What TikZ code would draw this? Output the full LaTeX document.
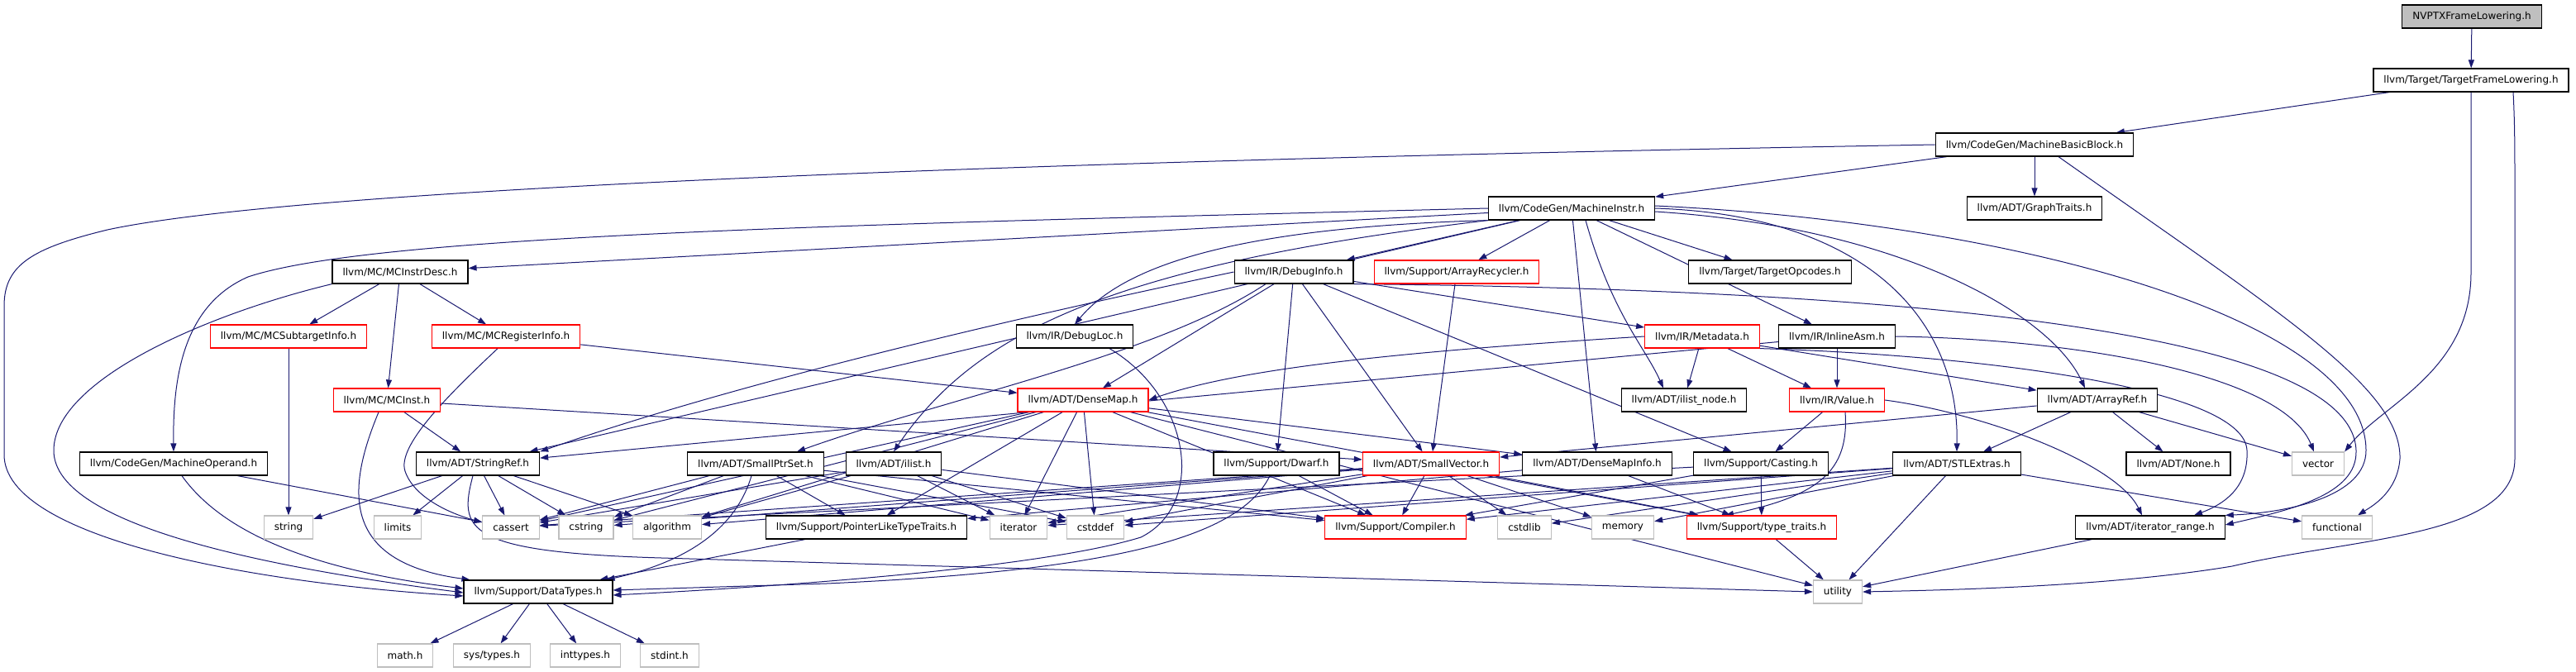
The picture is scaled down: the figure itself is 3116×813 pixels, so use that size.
\documentclass[tikz,border=0pt]{standalone}
\usepackage{fontspec}
\setmainfont{DejaVu Sans}
\usetikzlibrary{arrows.meta, backgrounds}
\definecolor{edgeblue}{HTML}{191970}
\definecolor{sysgray}{HTML}{BFBFBF}

\begin{document}
\begin{tikzpicture}[x=1pt, y=-1pt, >={Triangle[length=10pt,width=7pt]},
    hdr/.style={draw=black, line width=1.2pt, fill=white, minimum height=28pt,
                inner xsep=12.5pt, inner ysep=0pt, font=\fontsize{12}{14}\selectfont},
    trunc/.style={hdr, draw=red},
    sys/.style={hdr, draw=sysgray},
    root/.style={hdr, fill=sysgray},
    dep/.style={->, draw=edgeblue, line width=1pt}]
    \useasboundingbox (0,0) rectangle (3116,813);

    \node[root] (nvptx) at (2990,20) {NVPTXFrameLowering.h};
    \node[hdr] (tfl) at (2989,97) {llvm/Target/TargetFrameLowering.h};
    \node[hdr] (mbb) at (2461,175) {llvm/CodeGen/MachineBasicBlock.h};
    \node[hdr] (graphtraits) at (2461,252) {llvm/ADT/GraphTraits.h};
    \node[hdr] (minstr) at (1901,252) {llvm/CodeGen/MachineInstr.h};
    \node[hdr] (mcinstrdesc) at (484,329) {llvm/MC/MCInstrDesc.h};
    \node[hdr] (debuginfo) at (1565,329) {llvm/IR/DebugInfo.h};
    \node[trunc] (arrayrecycler) at (1762,329) {llvm/Support/ArrayRecycler.h};
    \node[hdr] (targetopcodes) at (2141,329) {llvm/Target/TargetOpcodes.h};
    \node[trunc] (mcsubtarget) at (349,407) {llvm/MC/MCSubtargetInfo.h};
    \node[trunc] (mcreginfo) at (612,407) {llvm/MC/MCRegisterInfo.h};
    \node[hdr] (debugloc) at (1300,407) {llvm/IR/DebugLoc.h};
    \node[trunc] (metadata) at (2059,407) {llvm/IR/Metadata.h};
    \node[hdr] (inlineasm) at (2222,407) {llvm/IR/InlineAsm.h};
    \node[trunc] (mcinst) at (468,484) {llvm/MC/MCInst.h};
    \node[trunc] (densemap) at (1310,484) {llvm/ADT/DenseMap.h};
    \node[hdr] (ilistnode) at (2037,484) {llvm/ADT/ilist\_node.h};
    \node[trunc] (value) at (2222,484) {llvm/IR/Value.h};
    \node[hdr] (arrayref) at (2537,484) {llvm/ADT/ArrayRef.h};
    \node[hdr] (machineoperand) at (210,561) {llvm/CodeGen/MachineOperand.h};
    \node[hdr] (stringref) at (578,561) {llvm/ADT/StringRef.h};
    \node[hdr] (smallptrset) at (914,561) {llvm/ADT/SmallPtrSet.h};
    \node[hdr] (ilist) at (1081,561) {llvm/ADT/ilist.h};
    \node[hdr] (dwarf) at (1544,561) {llvm/Support/Dwarf.h};
    \node[trunc] (smallvector) at (1731,561) {llvm/ADT/SmallVector.h};
    \node[hdr] (densemapinfo) at (1932,561) {llvm/ADT/DenseMapInfo.h};
    \node[hdr] (casting) at (2130,561) {llvm/Support/Casting.h};
    \node[hdr] (stlextras) at (2367,561) {llvm/ADT/STLExtras.h};
    \node[hdr] (none) at (2635,561) {llvm/ADT/None.h};
    \node[sys] (vector) at (2804,561) {vector};
    \node[sys] (string) at (349,638) {string};
    \node[sys] (limits) at (481,638) {limits};
    \node[sys] (cassert) at (618,638) {cassert};
    \node[sys] (cstring) at (709,638) {cstring};
    \node[sys] (algorithm) at (807,638) {algorithm};
    \node[hdr] (pltt) at (1048,638) {llvm/Support/PointerLikeTypeTraits.h};
    \node[sys] (iterator) at (1232,638) {iterator};
    \node[sys] (cstddef) at (1325,638) {cstddef};
    \node[trunc] (compiler) at (1688,638) {llvm/Support/Compiler.h};
    \node[sys] (cstdlib) at (1844,638) {cstdlib};
    \node[sys] (memory) at (1963,638) {memory};
    \node[trunc] (typetraits) at (2131,638) {llvm/Support/type\_traits.h};
    \node[hdr] (iterrange) at (2601,638) {llvm/ADT/iterator\_range.h};
    \node[sys] (functional) at (2827,638) {functional};
    \node[hdr] (datatypes) at (651,716) {llvm/Support/DataTypes.h};
    \node[sys] (utility) at (2223,716) {utility};
    \node[sys] (mathh) at (490,793) {math.h};
    \node[sys] (systypes) at (595,793) {sys/types.h};
    \node[sys] (inttypes) at (708,793) {inttypes.h};
    \node[sys] (stdint) at (810,793) {stdint.h};

    \begin{scope}[on background layer]
    \draw[dep] (nvptx) -- (tfl);
    \draw[dep] (tfl) -- (mbb);
    \draw[dep] (tfl.south) -- (2989,330) .. controls (2989,450) and (2880,490) .. (vector.north east);
    \draw[dep] ([xshift=51pt]tfl.south) .. controls (3042,150) and (3042,180) .. (3042,240) -- (3042,555)
        .. controls (3042,650) and (2850,650) .. (2700,685) .. controls (2550,710) and (2350,714) .. (utility.east);
    \draw[dep] (mbb) -- (graphtraits);
    \draw[dep] (mbb) -- (minstr);
    \draw[dep] (mbb.west) .. controls (1500,190) and (400,220) .. (130,278) .. controls (40,300) and (5,320) .. (5,370)
        -- (5,550) .. controls (5,650) and (300,705) .. ([yshift=-5pt]datatypes.west);
    \draw[dep] ([xshift=29pt]mbb.south) .. controls (2760,380) and (2905,470) .. (2903,555)
        .. controls (2900,595) and (2870,612) .. ([xshift=25pt]functional.north);

    \foreach \t in {mcinstrdesc,stringref,debuginfo,arrayrecycler,targetopcodes,inlineasm,densemapinfo}
        \draw[dep] (minstr) -- (\t);
    \draw[dep] (minstr.west) .. controls (1000,272) and (450,285) .. (300,335)
        .. controls (220,370) and (209,460) .. (machineoperand.north);
    \draw[dep] (minstr.south west) .. controls (1500,275) and (1360,320) .. (debugloc.north);
    \draw[dep] (minstr.south west) .. controls (1350,320) and (1180,400) .. (ilist.north);
    \draw[dep] ([xshift=17pt]minstr.south) .. controls (1950,380) and (1990,420) .. ([xshift=-25pt]ilistnode.north);
    \draw[dep] (minstr.east) .. controls (2250,260) and (2370,380) .. (stlextras.north);
    \draw[dep] ([yshift=-4pt]minstr.east) .. controls (2300,275) and (2480,380) .. ([xshift=-15pt]arrayref.north);
    \draw[dep] ([yshift=3pt]minstr.east) .. controls (2450,270) and (2862,390) .. (2862,545)
        .. controls (2862,600) and (2770,620) .. (iterrange.north east);

    \foreach \t in {mcsubtarget,mcinst,mcreginfo}
        \draw[dep] (mcinstrdesc) -- (\t);
    \draw[dep] (mcinstrdesc.south west) .. controls (250,380) and (65,460) .. (65,545)
        .. controls (65,640) and (350,690) .. ([yshift=-1pt]datatypes.west);
    \draw[dep] (mcsubtarget) -- (string);
    \draw[dep] (mcreginfo) -- (densemap);
    \draw[dep] ([xshift=-10pt]mcreginfo.south) .. controls (540,480) and (480,540) .. (490,570)
        .. controls (500,600) and (540,620) .. ([yshift=6pt]cassert.west);
    \draw[dep] (mcinst) -- (stringref);
    \draw[dep] (mcinst) -- (smallvector);
    \draw[dep] ([xshift=-10pt]mcinst.south) .. controls (420,590) and (410,680) .. ([xshift=8pt]datatypes.north west);
    \draw[dep] (machineoperand) -- (cassert);
    \draw[dep] ([xshift=10pt]machineoperand.south) .. controls (280,660) and (420,695) .. ([yshift=4pt]datatypes.west);

    \foreach \t in {string,limits,cassert,cstring,algorithm}
        \draw[dep] (stringref) -- (\t);
    \draw[dep] ([xshift=-6pt]stringref.south) .. controls (555,640) and (560,668) .. (800,675) -- (utility.west);
    \foreach \t in {mathh,systypes,inttypes,stdint}
        \draw[dep] (datatypes) -- (\t);

    \foreach \t in {densemap,smallvector,dwarf,casting,metadata}
        \draw[dep] (debuginfo) -- (\t);
    \draw[dep] (debuginfo.west) .. controls (1250,380) and (900,460) .. (stringref.north east);
    \draw[dep] ([xshift=-34pt]debuginfo.south) .. controls (1400,430) and (1150,480) .. ([xshift=50pt]smallptrset.north);
    \draw[dep] (debuginfo.south east) .. controls (2300,350) and (2845,400) .. (2850,545)
        .. controls (2852,600) and (2765,618) .. ([yshift=3pt]iterrange.east);
    \draw[dep] ([xshift=42pt]debugloc.south) .. controls (1440,480) and (1460,610) .. (1380,650)
        .. controls (1250,690) and (900,712) .. ([yshift=-4pt]datatypes.east);
    \draw[dep] (arrayrecycler) -- (smallvector);

    \foreach \t in {ilistnode,value,arrayref}
        \draw[dep] (metadata) -- (\t);
    \draw[dep] (metadata.west) .. controls (1700,425) and (1500,445) .. (densemap.east);
    \draw[dep] (metadata.south east) .. controls (2400,430) and (2715,470) .. (2718,545)
        .. controls (2720,590) and (2690,610) .. ([xshift=53pt]iterrange.north);
    \draw[dep] (inlineasm) -- (value);
    \draw[dep] (inlineasm) -- (stringref);
    \draw[dep] (inlineasm.east) .. controls (2500,410) and (2760,450) .. ([xshift=-5pt]vector.north);
    \draw[dep] (value) -- (casting);
    \draw[dep] (value.east) .. controls (2400,500) and (2560,560) .. ([xshift=-10pt]iterrange.north);
    \draw[dep] ([xshift=10pt]value.south) .. controls (2237,570) and (2200,600) .. ([xshift=-44pt]typetraits.north);

    \foreach \t in {none,vector,stlextras,smallvector}
        \draw[dep] (arrayref) -- (\t);
    \foreach \t in {pltt,typetraits}
        \draw[dep] (densemapinfo) -- (\t);
    \foreach \t in {typetraits,cassert,compiler}
        \draw[dep] (casting) -- (\t);
    \foreach \t in {compiler,cstdlib,memory,typetraits,algorithm,cassert,cstddef,cstring,iterator}
        \draw[dep] (smallvector) -- (\t);
    \foreach \t in {pltt,iterator,cstddef,cassert,cstring,compiler}
        \draw[dep] (smallptrset) -- (\t);
    \draw[dep] ([xshift=-5pt]smallptrset.south) .. controls (890,640) and (830,680) .. ([xshift=-8pt]datatypes.north east);
    \foreach \t in {algorithm,cassert,cstddef,iterator,compiler}
        \draw[dep] (ilist) -- (\t);
    \draw[dep] (dwarf) -- (compiler);
    \draw[dep] ([xshift=-8pt]dwarf.south) .. controls (1500,650) and (1350,690) .. (1000,706) -- ([yshift=2pt]datatypes.east);
    \draw[dep] (pltt) -- (datatypes);
    \foreach \t in {compiler,cstddef,cstdlib,iterator,memory,functional,utility}
        \draw[dep] (stlextras) -- (\t);
    \foreach \t in {densemapinfo,typetraits,pltt,iterator,cstddef,compiler,utility,algorithm,cassert,cstring}
        \draw[dep] (densemap) -- (\t);
    \draw[dep] (typetraits) -- (utility);
    \draw[dep] (iterrange) -- (utility);
    \end{scope}
\end{tikzpicture}
\end{document}
